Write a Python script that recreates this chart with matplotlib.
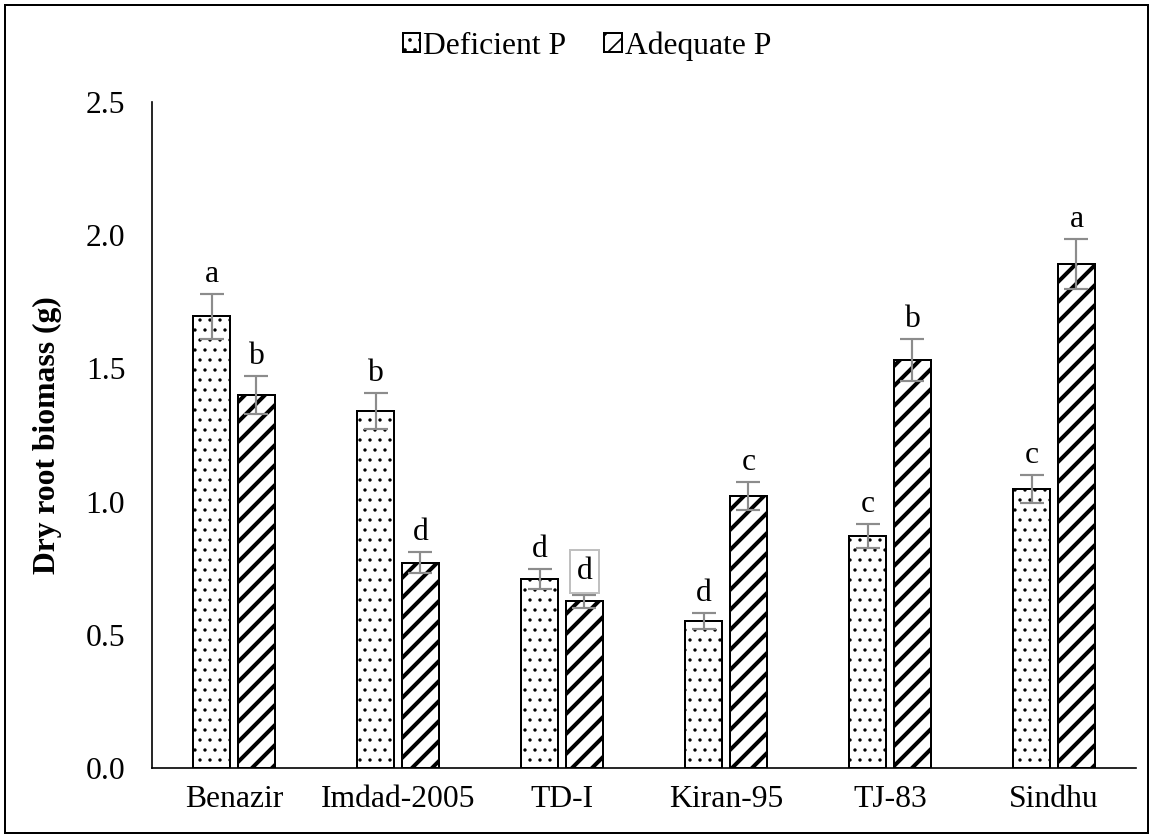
import matplotlib
matplotlib.use("Agg")
import matplotlib.pyplot as plt
import numpy as np
from matplotlib.patches import Rectangle

plt.rcParams['font.family'] = ['Liberation Serif', 'DejaVu Serif']

cultivars = ["Benazir", "Imdad-2005", "TD-I", "Kiran-95", "TJ-83", "Sindhu"]
deficient = [1.695, 1.341, 0.709, 0.552, 0.871, 1.048]
deficient_err = [0.086, 0.068, 0.037, 0.031, 0.044, 0.053]
adequate = [1.400, 0.771, 0.626, 1.021, 1.532, 1.892]
adequate_err = [0.070, 0.040, 0.025, 0.052, 0.078, 0.093]
deficient_letters = ["a", "b", "d", "d", "c", "c"]
adequate_letters = ["b", "d", "d", "c", "b", "a"]
series_names = ["Deficient P", "Adequate P"]
yticks = [0.0, 0.5, 1.0, 1.5, 2.0, 2.5]

DPI = 120
fig = plt.figure(figsize=(1154 / DPI, 837 / DPI), dpi=DPI)
ax = fig.add_axes([152 / 1154, 1 - 768 / 837, (1136 - 152) / 1154, (768 - 102) / 837])

x = np.arange(len(cultivars))
w = 0.226
off = 0.137
fs = 19


def set_hlw(container, lw):
    for p in container.patches:
        try:
            p.set_hatch_linewidth(lw)
        except Exception:
            pass


err_kw = dict(ecolor="#8c8c8c", elinewidth=1.3, capsize=7, capthick=1.3)
with plt.rc_context({'hatch.linewidth': 0.8}):
    b1 = ax.bar(x - off, deficient, w, yerr=deficient_err, facecolor="white",
                edgecolor="black", linewidth=1.2, hatch="..", error_kw=err_kw,
                label=series_names[0])
set_hlw(b1, 0.8)
with plt.rc_context({'hatch.linewidth': 2.4}):
    b2 = ax.bar(x + off, adequate, w, yerr=adequate_err, facecolor="white",
                edgecolor="black", linewidth=1.2, hatch="//", error_kw=err_kw,
                label=series_names[1])
set_hlw(b2, 2.4)

for i in range(len(cultivars)):
    ax.annotate(deficient_letters[i], (x[i] - off, deficient[i] + deficient_err[i]),
                xytext=(0, 3), textcoords="offset points", ha="center", va="bottom",
                fontsize=fs)
    if i == 2:
        ax.annotate(adequate_letters[i], (x[i] + off, adequate[i] + adequate_err[i]),
                    xytext=(0, 5), textcoords="offset points", ha="center", va="bottom",
                    fontsize=fs,
                    bbox=dict(boxstyle="square,pad=0.22", facecolor="white",
                              edgecolor="#c0c0c0", linewidth=1.2))
    else:
        ax.annotate(adequate_letters[i], (x[i] + off, adequate[i] + adequate_err[i]),
                    xytext=(0, 3), textcoords="offset points", ha="center", va="bottom",
                    fontsize=fs)

ax.set_xlim(-0.5, len(cultivars) - 0.5)
ax.set_ylim(0, 2.5)
ax.set_yticks(yticks)
ax.set_yticklabels([f"{t:.1f}" for t in yticks])
ax.set_xticks(x)
ax.set_xticklabels(cultivars)
ax.tick_params(axis="both", length=0, labelsize=fs)
ax.tick_params(axis="y", pad=16)
ax.tick_params(axis="x", pad=10)
for s in ["top", "right"]:
    ax.spines[s].set_visible(False)
for s in ["left", "bottom"]:
    ax.spines[s].set_linewidth(1.0)
    ax.spines[s].set_color("black")

ax.set_ylabel("Dry root biomass (g)", fontsize=fs, fontweight="bold", labelpad=14)

leg = fig.legend(handles=[b1, b2], labels=series_names, loc="center",
                 bbox_to_anchor=(587 / 1154, 1 - 46 / 837), ncol=2, frameon=False,
                 fontsize=fs, handlelength=0.55, handleheight=0.55,
                 handletextpad=0.1, columnspacing=1.2)

fig.patches.append(Rectangle((5 / 1154, 4 / 837), 1143 / 1154, 828 / 837,
                             transform=fig.transFigure, fill=False,
                             edgecolor="black", linewidth=1.2))

fig.savefig("out.png", dpi=DPI)
